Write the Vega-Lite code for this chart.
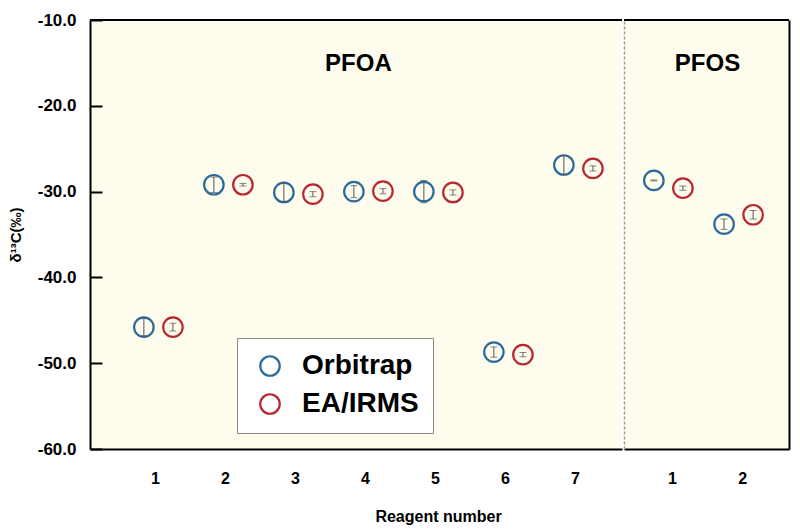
{
  "$schema": "https://vega.github.io/schema/vega-lite/v6.json",
  "background": "white",
  "padding": {"left": 8, "top": 11, "right": 5, "bottom": 5},
  "config": {
    "font": "Liberation Sans",
    "view": {"stroke": null},
    "concat": {"spacing": 0}
  },
  "spacing": 0,
  "data": {
    "values": [
      {"group": "PFOA", "reagent": "1", "method": "Orbitrap", "value": -45.8, "sd": 1.0},
      {"group": "PFOA", "reagent": "1", "method": "EA/IRMS", "value": -45.8, "sd": 0.45},
      {"group": "PFOA", "reagent": "2", "method": "Orbitrap", "value": -29.2, "sd": 0.9},
      {"group": "PFOA", "reagent": "2", "method": "EA/IRMS", "value": -29.2, "sd": 0.15},
      {"group": "PFOA", "reagent": "3", "method": "Orbitrap", "value": -30.1, "sd": 1.1},
      {"group": "PFOA", "reagent": "3", "method": "EA/IRMS", "value": -30.3, "sd": 0.3},
      {"group": "PFOA", "reagent": "4", "method": "Orbitrap", "value": -30.0, "sd": 0.7},
      {"group": "PFOA", "reagent": "4", "method": "EA/IRMS", "value": -29.95, "sd": 0.3},
      {"group": "PFOA", "reagent": "5", "method": "Orbitrap", "value": -30.0, "sd": 1.3},
      {"group": "PFOA", "reagent": "5", "method": "EA/IRMS", "value": -30.1, "sd": 0.3},
      {"group": "PFOA", "reagent": "6", "method": "Orbitrap", "value": -48.7, "sd": 0.6},
      {"group": "PFOA", "reagent": "6", "method": "EA/IRMS", "value": -49.0, "sd": 0.25},
      {"group": "PFOA", "reagent": "7", "method": "Orbitrap", "value": -26.9, "sd": 1.1},
      {"group": "PFOA", "reagent": "7", "method": "EA/IRMS", "value": -27.3, "sd": 0.3},
      {"group": "PFOS", "reagent": "1", "method": "Orbitrap", "value": -28.7, "sd": 0.05},
      {"group": "PFOS", "reagent": "1", "method": "EA/IRMS", "value": -29.6, "sd": 0.25},
      {"group": "PFOS", "reagent": "2", "method": "Orbitrap", "value": -33.8, "sd": 0.6},
      {"group": "PFOS", "reagent": "2", "method": "EA/IRMS", "value": -32.7, "sd": 0.5}
    ]
  },
  "hconcat": [
    {
      "width": 532,
      "height": 429,
      "view": {"fill": "#fefcec", "stroke": null},
      "transform": [{"filter": "datum.group == 'PFOA'"}],
      "layer": [
        {
          "mark": {"type": "point", "filled": false, "size": 380, "strokeWidth": 2.2, "opacity": 1},
          "encoding": {
            "x": {
              "field": "reagent", "type": "ordinal",
              "scale": {"paddingInner": 0.17, "paddingOuter": 0.385, "align": 0.73},
              "axis": {
                "labelAngle": 0, "ticks": false, "domainColor": "black", "domainWidth": 2,
                "labelFontSize": 16, "labelFontWeight": "bold", "labelColor": "black",
                "labelPadding": 21, "labelOffset": -3,
                "title": "Reagent number", "titleFontSize": 16, "titleFontWeight": "bold",
                "titleColor": "black", "titleX": 348, "titlePadding": 22
              }
            },
            "xOffset": {"field": "method", "type": "nominal", "scale": {"domain": ["Orbitrap", "EA/IRMS"]}},
            "y": {
              "field": "value", "type": "quantitative",
              "scale": {"domain": [-60, -10], "nice": false, "zero": false},
              "axis": {
                "values": [-60, -50, -40, -30, -20, -10], "format": ".1f",
                "labelExpr": "replace(datum.label, '−', '-')",
                "zindex": 1, "grid": false,
                "ticks": true, "tickSize": -12, "tickWidth": 2, "tickColor": "black",
                "domainColor": "black", "domainWidth": 2,
                "labelFontSize": 17, "labelFontWeight": "bold", "labelColor": "black", "labelPadding": 26,
                "title": "δ¹³C(‰)", "titleFontSize": 15, "titleFontWeight": "bold", "titleColor": "black",
                "titlePadding": 14
              }
            },
            "color": {
              "field": "method", "type": "nominal",
              "scale": {"domain": ["Orbitrap", "EA/IRMS"], "range": ["#2a6b9b", "#b8262e"]},
              "legend": {
                "orient": "none", "legendX": 147, "legendY": 318, "title": null,
                "fillColor": "white", "strokeColor": "#888888", "padding": 14,
                "symbolType": "circle", "symbolSize": 380, "symbolStrokeWidth": 2.2,
                "labelFontSize": 28, "labelFontWeight": "bold", "labelColor": "black",
                "labelOffset": 18, "rowPadding": 8, "symbolOffset": 5
              }
            }
          }
        },
        {
          "mark": {"type": "errorbar", "ticks": {"size": 7}, "color": "#555555", "thickness": 1},
          "encoding": {
            "x": {"field": "reagent", "type": "ordinal"},
            "xOffset": {"field": "method", "type": "nominal"},
            "y": {
              "field": "value", "type": "quantitative",
              "axis": {
                "values": [-60, -50, -40, -30, -20, -10], "format": ".1f",
                "labelExpr": "replace(datum.label, '−', '-')",
                "zindex": 1, "grid": false,
                "ticks": true, "tickSize": -12, "tickWidth": 2, "tickColor": "black",
                "domainColor": "black", "domainWidth": 2,
                "labelFontSize": 17, "labelFontWeight": "bold", "labelColor": "black", "labelPadding": 26,
                "title": "δ¹³C(‰)", "titleFontSize": 15, "titleFontWeight": "bold", "titleColor": "black",
                "titlePadding": 14
              }
            },
            "yError": {"field": "sd"}
          }
        },
        {
          "data": {"values": [{"label": "PFOA"}]},
          "mark": {"type": "text", "fontSize": 24, "fontWeight": "bold", "color": "black", "dx": -10, "baseline": "middle"},
          "encoding": {
            "x": {"datum": "4", "type": "ordinal"},
            "y": {"datum": -15.1, "type": "quantitative"},
            "text": {"field": "label"}
          }
        },
        {
          "data": {"values": [{"edge": "top"}]},
          "mark": {"type": "rule", "color": "black", "strokeWidth": 2},
          "encoding": {"y": {"datum": -10, "type": "quantitative"}}
        }
      ]
    },
    {
      "width": 165,
      "height": 429,
      "view": {"fill": "#fefcec", "stroke": null},
      "transform": [{"filter": "datum.group == 'PFOS'"}],
      "resolve": {"axis": {"y": "independent"}},
      "layer": [
        {
          "mark": {"type": "point", "filled": false, "size": 380, "strokeWidth": 2.2, "opacity": 1},
          "encoding": {
            "x": {
              "field": "reagent", "type": "ordinal",
              "scale": {"paddingInner": 0.17, "paddingOuter": 0.26, "align": 0.42},
              "axis": {
                "labelAngle": 0, "ticks": false, "domainColor": "black", "domainWidth": 2,
                "labelFontSize": 16, "labelFontWeight": "bold", "labelColor": "black",
                "labelPadding": 21, "labelOffset": 4, "title": null
              }
            },
            "xOffset": {"field": "method", "type": "nominal", "scale": {"domain": ["Orbitrap", "EA/IRMS"]}},
            "y": {
              "field": "value", "type": "quantitative",
              "scale": {"domain": [-60, -10], "nice": false, "zero": false},
              "axis": {
                "labels": false, "ticks": false, "grid": false, "title": null,
                "domainColor": "#9a9a9a", "domainWidth": 1.5, "domainDash": [3, 2]
              }
            },
            "color": {
              "field": "method", "type": "nominal",
              "scale": {"domain": ["Orbitrap", "EA/IRMS"], "range": ["#2a6b9b", "#b8262e"]},
              "legend": null
            }
          }
        },
        {
          "mark": {"type": "errorbar", "ticks": {"size": 7}, "color": "#555555", "thickness": 1},
          "encoding": {
            "x": {"field": "reagent", "type": "ordinal"},
            "xOffset": {"field": "method", "type": "nominal"},
            "y": {"field": "value", "type": "quantitative", "axis": null},
            "yError": {"field": "sd"}
          }
        },
        {
          "data": {"values": [{"label": "PFOS"}]},
          "mark": {"type": "text", "fontSize": 24, "fontWeight": "bold", "color": "black", "dx": 39, "baseline": "middle"},
          "encoding": {
            "x": {"datum": "1", "type": "ordinal"},
            "y": {"datum": -15.1, "type": "quantitative", "axis": null},
            "text": {"field": "label"}
          }
        },
        {
          "data": {"values": [{"edge": "top"}]},
          "mark": {"type": "rule", "color": "black", "strokeWidth": 2},
          "encoding": {
            "y": {
              "datum": -10, "type": "quantitative",
              "axis": {"orient": "right", "labels": false, "ticks": false, "grid": false, "title": null,
                       "domainColor": "black", "domainWidth": 2}
            }
          }
        }
      ]
    }
  ]
}
